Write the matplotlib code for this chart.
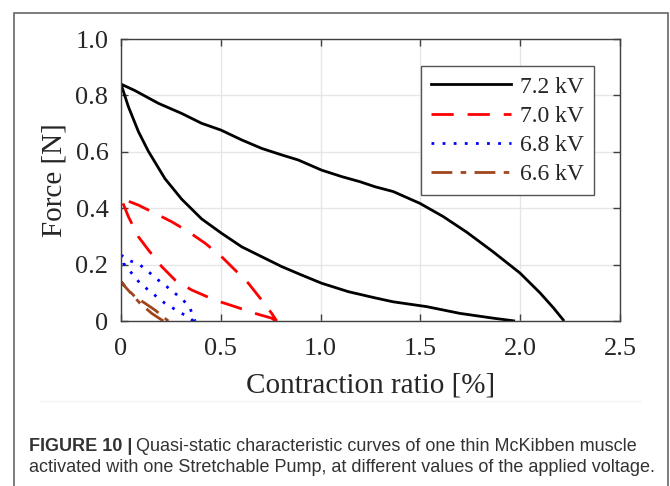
import numpy as np
import matplotlib
matplotlib.use("Agg")
import matplotlib.pyplot as plt
from matplotlib.patches import Rectangle
from matplotlib.lines import Line2D

# 7.2 kV loop (upper and lower branch)
x72_up = [0, 0.070, 0.187, 0.304, 0.404, 0.501, 0.605, 0.705, 0.805, 0.888, 1.005, 1.106, 1.197, 1.273,
          1.364, 1.498, 1.615, 1.732, 1.865, 1.999, 2.099, 2.166, 2.22]
y72_up = [0.840, 0.817, 0.772, 0.736, 0.701, 0.677, 0.642, 0.612, 0.589, 0.571, 0.535, 0.512, 0.494, 0.476,
          0.459, 0.417, 0.370, 0.315, 0.245, 0.170, 0.100, 0.047, 0.0]
x72_lo = [0, 0.037, 0.087, 0.137, 0.220, 0.304, 0.404, 0.504, 0.605, 0.705, 0.805, 0.905, 1.005, 1.139,
          1.273, 1.364, 1.531, 1.698, 1.865, 1.974]
y72_lo = [0.840, 0.760, 0.672, 0.602, 0.505, 0.432, 0.362, 0.311, 0.263, 0.228, 0.193, 0.163, 0.134, 0.104,
          0.082, 0.068, 0.051, 0.027, 0.010, 0.0]
# 7.0 kV
x70_up = [0, 0.087, 0.170, 0.254, 0.337, 0.421, 0.504, 0.571, 0.638, 0.705, 0.755, 0.78]
y70_up = [0.435, 0.411, 0.382, 0.352, 0.317, 0.276, 0.228, 0.181, 0.134, 0.074, 0.027, 0.0]
x70_lo = [0, 0.037, 0.087, 0.137, 0.204, 0.271, 0.354, 0.471, 0.571, 0.671, 0.755, 0.775]
y70_lo = [0.435, 0.370, 0.299, 0.252, 0.193, 0.145, 0.110, 0.074, 0.051, 0.027, 0.010, 0.0]
# 6.8 kV
x68_up = [0, 0.037, 0.095, 0.137, 0.187, 0.229, 0.271, 0.312, 0.346, 0.371]
y68_up = [0.234, 0.216, 0.199, 0.175, 0.145, 0.122, 0.098, 0.074, 0.045, 0.0]
x68_lo = [0, 0.012, 0.054, 0.095, 0.137, 0.179, 0.220, 0.262, 0.304, 0.337, 0.362]
y68_lo = [0.234, 0.205, 0.169, 0.134, 0.110, 0.086, 0.063, 0.045, 0.027, 0.015, 0.0]
# 6.6 kV
x66_up = [0, 0.037, 0.070, 0.120, 0.170, 0.220, 0.237]
y66_up = [0.139, 0.110, 0.086, 0.063, 0.039, 0.010, 0.0]
x66_lo = [0, 0.020, 0.095, 0.154, 0.212]
y66_lo = [0.139, 0.122, 0.063, 0.027, 0.0]

labels = ["7.2 kV", "7.0 kV", "6.8 kV", "6.6 kV"]
colors = ["black", "#ff0000", "#0000ff", "#a0461e"]
dashes = [None, (8, 5), (1, 3), (7.5, 3, 2, 3)]

xticks = [0, 0.5, 1.0, 1.5, 2.0, 2.5]
xticklabels = ["0", "0.5", "1.0", "1.5", "2.0", "2.5"]
yticks = [0, 0.2, 0.4, 0.6, 0.8, 1.0]
yticklabels = ["0", "0.2", "0.4", "0.6", "0.8", "1.0"]

SERIF = "Liberation Serif"
fig = plt.figure(figsize=(6.7, 4.86), dpi=100)
ax = fig.add_axes([121 / 670, 1 - 321 / 486, 499 / 670, 282 / 486])

series = [(x72_lo, y72_lo, x72_up, y72_up), (x70_lo, y70_lo, x70_up, y70_up),
          (x68_lo, y68_lo, x68_up, y68_up), (x66_lo, y66_lo, x66_up, y66_up)]
handles = []
for (xl, yl, xu, yu), lab, c, d in zip(series, labels, colors, dashes):
    xs = list(xl[::-1]) + list(xu[1:]); ys = list(yl[::-1]) + list(yu[1:])
    ln, = ax.plot(xs, ys, color=c, lw=2, solid_capstyle="butt", dash_capstyle="butt",
                  solid_joinstyle="round")
    if d: ln.set_dashes(d)
    h = Line2D([], [], color=c, lw=2, dash_capstyle="butt")
    if d: h.set_dashes(d)
    handles.append(h)

ax.set_xlim(0, 2.5); ax.set_ylim(0, 1.0)
ax.set_xticks(xticks); ax.set_xticklabels(xticklabels)
ax.set_yticks(yticks); ax.set_yticklabels(yticklabels)
ax.grid(True, color="#e6e6e6", lw=1); ax.set_axisbelow(True)
for s in ax.spines.values():
    s.set_color("#404040"); s.set_linewidth(1)
ax.tick_params(direction="in", top=True, right=True, length=5, width=1, color="#404040",
               labelsize=19, labelcolor="#262626")
ax.tick_params(axis="x", pad=12); ax.tick_params(axis="y", pad=9)
for t in ax.get_xticklabels() + ax.get_yticklabels():
    t.set_family(SERIF)
ax.set_xlabel("Contraction ratio [%]", family=SERIF, fontsize=21, color="#262626", labelpad=9)
ax.set_ylabel("Force [N]", family=SERIF, fontsize=21, color="#262626", labelpad=6)

leg = ax.legend(handles, labels, loc="upper right", bbox_to_anchor=(0.948, 0.904), borderaxespad=0,
                prop={"family": SERIF, "size": 17}, handlelength=3.4, handletextpad=0.4,
                labelspacing=0.33, borderpad=0.42, fancybox=False, framealpha=1, edgecolor="#555555")
leg.get_frame().set_linewidth(1)
for t in leg.get_texts():
    t.set_color("#262626")

# outer frame and caption
fig.patches.append(Rectangle((14 / 670, -0.05), 653.5 / 670, 1.05 - 13 / 486, transform=fig.transFigure,
                             fill=False, edgecolor="#666666", lw=1.2))
fig.add_artist(Line2D([40 / 670, 640 / 670], [1 - 401 / 486] * 2, color="#f4f4f4", lw=1))
cap = dict(family="Liberation Sans", fontsize=13, color="#333333", va="center")
t1 = fig.text(29 / 670, 1 - 446 / 486, "FIGURE 10 |", fontweight="bold", **cap)
fig.canvas.draw()
bb = t1.get_window_extent()
fig.text(bb.x1 / fig.bbox.width + 4 / 670, 1 - 446 / 486,
         "Quasi-static characteristic curves of one thin McKibben muscle", **cap)
fig.text(29 / 670, 1 - 468 / 486,
         "activated with one Stretchable Pump, at different values of the applied voltage.", **cap)

fig.savefig("out.png", dpi=100)
